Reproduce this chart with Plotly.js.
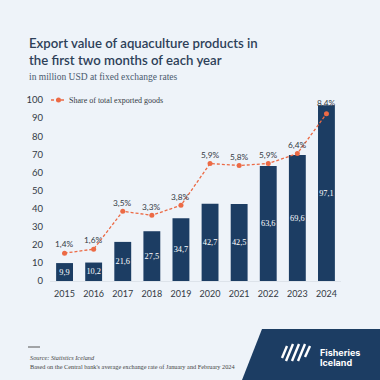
<!DOCTYPE html>
<html><head><meta charset="utf-8">
<script src="https://cdn.plot.ly/plotly-3.0.1.min.js"></script>
<style>html,body{margin:0;padding:0;background:#eef3f9;}#c{width:380px;height:380px;}</style>
</head><body><div id="c"></div>
<script>
const years = ['2015','2016','2017','2018','2019','2020','2021','2022','2023','2024'];
const exportValues = [9.9, 10.2, 21.6, 27.5, 34.7, 42.7, 42.5, 63.6, 69.6, 97.1];
const sharePercent = [1.4, 1.6, 3.5, 3.3, 3.8, 5.9, 5.8, 5.9, 6.4, 8.4];
const yTicks = [0,10,20,30,40,50,60,70,80,90,100];
const legendLabel = 'Share of total exported goods';

const L=50, R=341, T=100, B=281;
const px = x => (x-L)/(R-L);
const py = y => (B-y)/(B-T);
const fmt = v => v.toFixed(1).replace('.', ',');
const serif = 'Liberation Serif, DejaVu Serif, serif';
const sans = 'Lato, Noto Sans, sans-serif';

const bars = {
  type:'bar', x:years, y:exportValues, marker:{color:'#1c3d63'}, width:0.58,
  text:exportValues.map(fmt), textposition:'inside', insidetextanchor:'middle', textangle:0,
  constraintext:'none',
  textfont:{family:serif, size:8.3, color:'#ffffff'},
  showlegend:false, hoverinfo:'skip', cliponaxis:false
};
const line = {
  type:'scatter', x:years, y:sharePercent, yaxis:'y2', mode:'lines+markers',
  name:legendLabel, showlegend:false,
  line:{color:'#ec6a45', width:1.3, dash:'3px,2px'},
  marker:{color:'#ec6a45', size:5},
  cliponaxis:false
};

const shapes = [
  {type:'path', xref:'paper', yref:'paper',
   path:`M ${px(262)} ${py(329)} L ${px(380)} ${py(329)} L ${px(380)} ${py(380)} L ${px(242)} ${py(380)} Z`,
   fillcolor:'#1c3d63', line:{width:0}},
  {type:'line', xref:'paper', yref:'paper', x0:px(28), x1:px(40), y0:py(347), y1:py(347), line:{color:'#555', width:1}},
  {type:'line', xref:'paper', yref:'paper', x0:px(51), x1:px(66), y0:py(100), y1:py(100), line:{color:'#ec6a45', width:1.3, dash:'3px,2px'}},
  {type:'circle', xref:'paper', yref:'paper', x0:px(56), x1:px(61), y0:py(97.5), y1:py(102.5), fillcolor:'#ec6a45', line:{width:0}}
];
const slashes = [[287,346,282,358],[293,344,286,361],[299,344,292,361],[305,344,298,361],[310,346,305,357]];
slashes.forEach(s=>shapes.push({type:'line', xref:'paper', yref:'paper', x0:px(s[0]), y0:py(s[1]), x1:px(s[2]), y1:py(s[3]), line:{color:'#ffffff', width:2.4}}));

const ann = (text, x, y, font, extra={}) => Object.assign({text, xref:'paper', yref:'paper', x:px(x), y:py(y), xanchor:'left', yanchor:'middle', showarrow:false, font}, extra);
const titleFont = {family:sans, size:13.2, color:'#2d4058', weight:600};
const annotations = [
  ann('Export value of aquaculture products in', 27, 43, titleFont),
  ann('the first two months of each year', 27, 60, titleFont),
  ann('in million USD at fixed exchange rates', 27, 77, {family:serif, size:9.5, color:'#4a5a6e'}),
  ann(legendLabel, 67, 100, {family:serif, size:8, color:'#333a44'}),
  ann('<i>Source: Statistics Iceland</i>', 28, 357.5, {family:serif, size:6.3, color:'#444'}),
  ann("Based on the Central bank's average exchange rate of January and February 2024", 28, 366, {family:serif, size:6.3, color:'#444'}),
  ann('<b>Fisheries</b>', 318, 352, {family:'Inter, Noto Sans, sans-serif', size:9, color:'#ffffff'}),
  ann('<b>Iceland</b>', 318, 362, {family:'Inter, Noto Sans, sans-serif', size:9, color:'#ffffff'})
];
years.forEach((yr,i)=>annotations.push({
  text:fmt(sharePercent[i])+'%', x:i, y:sharePercent[i], xref:'x', yref:'y2',
  xanchor:'center', yanchor:'middle', yshift:(i===years.length-1?10.5:8.8), showarrow:false,
  font:{family:sans, size:8.3, color:'#333a44'}
}));

const layout = {
  width:380, height:380,
  margin:{l:L, r:380-R, t:T, b:380-B, pad:0},
  paper_bgcolor:'#eef3f9', plot_bgcolor:'#eef3f9',
  font:{family:sans, color:'#333a44'},
  xaxis:{type:'category', categoryarray:years, categoryorder:'array', range:[-0.5, years.length-0.5],
         showgrid:false, showline:true, linecolor:'#dde3ea', linewidth:1, ticks:'', fixedrange:true,
         tickfont:{size:9, color:'#333a44'}, ticklabelstandoff:4},
  yaxis:{range:[0,100], tickvals:yTicks, showgrid:false, zeroline:false, ticks:'', tickfont:{size:9.5, color:'#333a44'}, ticklabelstandoff:6},
  yaxis2:{range:[0,100/11], overlaying:'y', side:'right', visible:false},
  showlegend:false,
  shapes, annotations
};
Plotly.newPlot('c', [bars, line], layout, {staticPlot:true, displayModeBar:false});
</script></body></html>
